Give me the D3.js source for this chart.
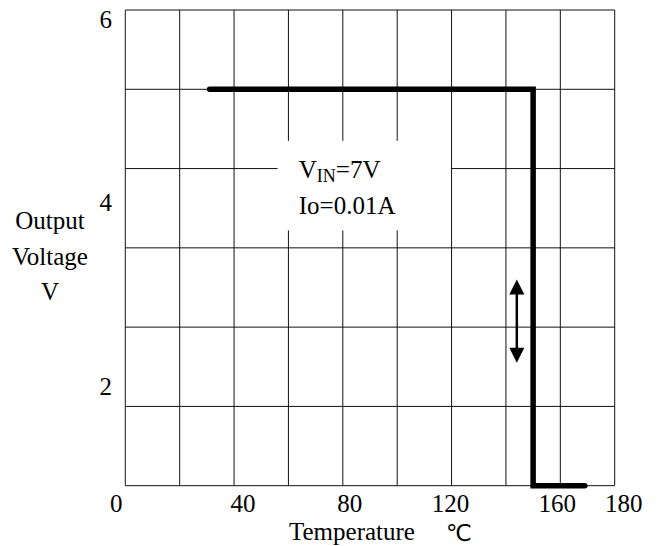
<!DOCTYPE html>
<html>
<head>
<meta charset="utf-8">
<script src="https://cdn.jsdelivr.net/npm/d3@7"></script>
<style>
  html, body { margin: 0; padding: 0; background: #fff; }
  svg { display: block; }
</style>
</head>
<body>
<div id="chart"></div>
<script>
// Output voltage vs temperature (thermal shutdown)
const tempC = [31, 150, 150, 169];
const voltsOut = [5, 5, 0, 0];

const xTicks = [0, 40, 80, 120, 160, 180];
const yTicks = [6, 4, 2];
const xGrid = d3.range(0, 181, 20);
const yGrid = d3.range(0, 7, 1);

// double arrow annotation, in data units
const arrowTemp = 144;
const arrowVolts = [2.6, 1.55];

// condition note
const noteLines = [['V', 'IN', '=7V'], ['Io=0.01A', '', '']];
const noteBoxTemp = [56, 120];
const noteBoxVolts = [4.35, 3.22];

const SERIF = "'Liberation Serif', 'Times New Roman', serif";
const W = 663, H = 546;
const plot = { left: 125.3, right: 614.7, top: 10, bottom: 485.7 };

const x = d3.scaleLinear().domain([0, 180]).range([plot.left, plot.right]);
const y = d3.scaleLinear().domain([0, 6]).range([plot.bottom, plot.top]);
// tick labels in the source sit off the grid, so they get their own scale
const yLabel = d3.scaleLinear().domain([2, 6]).range([386, 19]);
const xLabelNudge = [-9, 9, 7, -1, -3, 9];

const svg = d3.select('#chart').append('svg')
  .attr('width', W)
  .attr('height', H)
  .attr('viewBox', `0 0 ${W} ${H}`)
  .attr('font-family', SERIF);

svg.append('rect').attr('width', W).attr('height', H).attr('fill', '#fff');

// grid
const grid = svg.append('g').attr('stroke', '#111').attr('stroke-width', 1);
grid.selectAll('line.v').data(xGrid).join('line')
  .attr('class', 'v')
  .attr('x1', d => x(d)).attr('x2', d => x(d))
  .attr('y1', plot.top).attr('y2', plot.bottom);
grid.selectAll('line.h').data(yGrid).join('line')
  .attr('class', 'h')
  .attr('y1', d => y(d)).attr('y2', d => y(d))
  .attr('x1', plot.left).attr('x2', plot.right);

// white note box over the grid, keep the 120 line as its right edge
svg.append('rect')
  .attr('x', x(noteBoxTemp[0]))
  .attr('y', y(noteBoxVolts[0]))
  .attr('width', x(noteBoxTemp[1]) - x(noteBoxTemp[0]) - 0.6)
  .attr('height', y(noteBoxVolts[1]) - y(noteBoxVolts[0]))
  .attr('fill', '#fff');

const note = svg.append('g').attr('font-size', 25).attr('font-family', SERIF);
noteLines.forEach((parts, i) => {
  const t = note.append('text')
    .attr('x', x(63.8))
    .attr('y', 178.3 + i * 36);
  t.append('tspan').text(parts[0]);
  if (parts[1]) {
    t.append('tspan').attr('font-size', 18).attr('dy', 3.5).text(parts[1]);
    t.append('tspan').attr('dy', -3.5).text(parts[2]);
  }
});

// curve
const line = d3.line().x(d => x(d[0])).y(d => y(d[1]));
svg.append('path')
  .datum(d3.zip(tempC, voltsOut))
  .attr('d', line)
  .attr('fill', 'none')
  .attr('stroke', '#000')
  .attr('stroke-width', 5.5)
  .attr('stroke-linecap', 'round')
  .attr('stroke-linejoin', 'miter');

// double arrow: shaft plus two filled heads
const ax = x(arrowTemp);
const aTop = y(arrowVolts[0]);
const aBot = y(arrowVolts[1]);
const headW = 7.5, headH = 15;
svg.append('line')
  .attr('x1', ax).attr('x2', ax)
  .attr('y1', aTop + headH - 1).attr('y2', aBot - headH + 1)
  .attr('stroke', '#000')
  .attr('stroke-width', 2.5);
svg.append('path')
  .attr('d', `M${ax},${aTop} L${ax + headW},${aTop + headH} L${ax - headW},${aTop + headH} Z`)
  .attr('fill', '#000');
svg.append('path')
  .attr('d', `M${ax},${aBot} L${ax + headW},${aBot - headH} L${ax - headW},${aBot - headH} Z`)
  .attr('fill', '#000');

// tick labels
svg.append('g').attr('font-size', 25).attr('font-family', SERIF).attr('text-anchor', 'middle')
  .selectAll('text').data(xTicks).join('text')
  .attr('x', (d, i) => x(d) + xLabelNudge[i])
  .attr('y', 511.5)
  .text(d => d);

svg.append('g').attr('font-size', 25).attr('font-family', SERIF).attr('text-anchor', 'end')
  .selectAll('text').data(yTicks).join('text')
  .attr('x', 112)
  .attr('y', d => yLabel(d))
  .attr('dy', '0.35em')
  .text(d => d);

// axis titles
const yTitle = ['Output', 'Voltage', 'V'];
svg.append('g').attr('font-size', 25).attr('font-family', SERIF).attr('text-anchor', 'middle')
  .selectAll('text').data(yTitle).join('text')
  .attr('x', 50)
  .attr('y', (d, i) => 229 + i * 35.5)
  .text(d => d);

svg.append('text')
  .attr('font-size', 25)
  .attr('font-family', SERIF)
  .attr('x', 289).attr('y', 539.5)
  .text('Temperature');
svg.append('text')
  .attr('font-size', 23)
  .attr('font-family', "'DejaVu Sans', sans-serif")
  .attr('x', 446).attr('y', 541)
  .text('℃');
</script>
</body>
</html>
